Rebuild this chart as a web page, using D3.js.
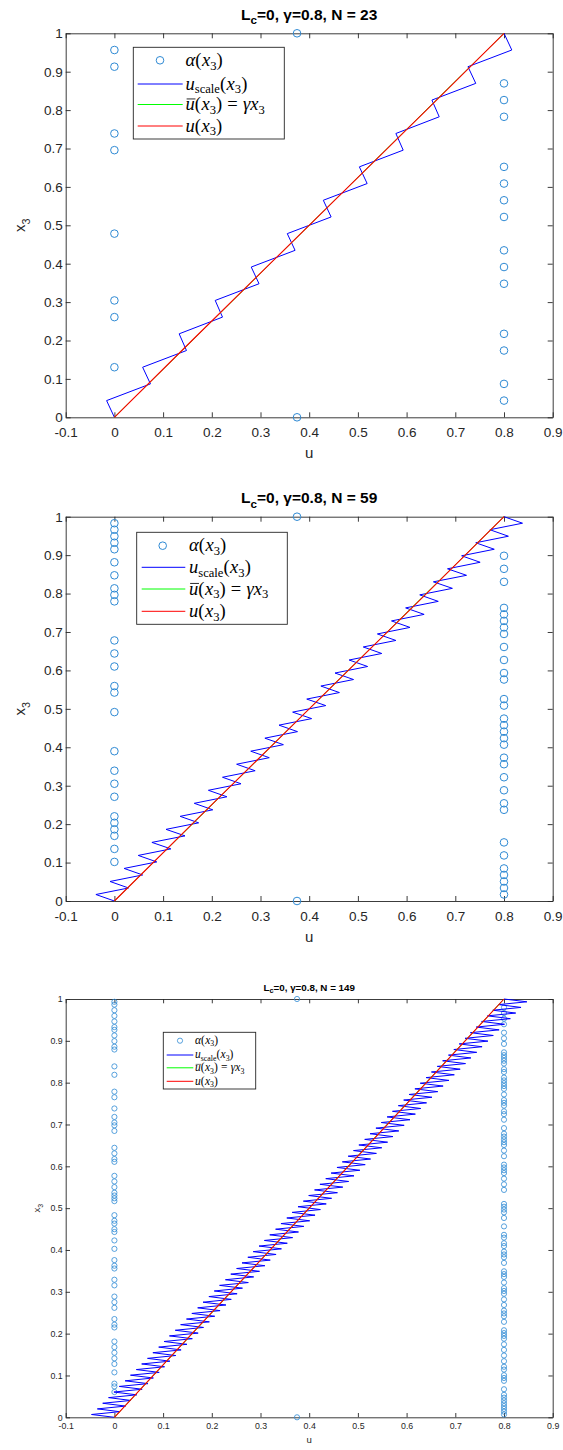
<!DOCTYPE html>
<html><head><meta charset="utf-8">
<script src="https://cdn.jsdelivr.net/npm/d3@7"></script>
<style>body{margin:0;background:#fff}svg{display:block}</style>
</head><body>
<svg id="c" width="563" height="1450"></svg>
<script>
// ---------- data ----------
const xTicks = [-0.1,0,0.1,0.2,0.3,0.4,0.5,0.6,0.7,0.8,0.9];
const xTickLabels = ["-0.1","0","0.1","0.2","0.3","0.4","0.5","0.6","0.7","0.8","0.9"];
const yTicks = [0,0.1,0.2,0.3,0.4,0.5,0.6,0.7,0.8,0.9,1];
const yTickLabels = ["0","0.1","0.2","0.3","0.4","0.5","0.6","0.7","0.8","0.9","1"];
const titles = ["23","59","149"];

const x3_23 = [0,0.0435,0.0870,0.1304,0.1739,0.2174,0.2609,0.3043,0.3478,0.3913,0.4348,0.4783,0.5217,0.5652,0.6087,0.6522,0.6957,0.7391,0.7826,0.8261,0.8696,0.9130,0.9565,1];
const alpha_23 = [0.375,0.8,0.8,0,0.8,0.8,0,0,0.8,0.8,0.8,0,0.8,0.8,0.8,0.8,0,0,0.8,0.8,0.8,0,0,0.375];
const uscale_23 = [0,-0.016,0.074,0.058,0.148,0.133,0.222,0.207,0.297,0.281,0.371,0.355,0.445,0.429,0.519,0.503,0.593,0.578,0.667,0.652,0.742,0.726,0.816,0.800];

const x3_59 = [0,0.0169,0.0339,0.0508,0.0678,0.0847,0.1017,0.1186,0.1356,0.1525,
0.1695,0.1864,0.2034,0.2203,0.2373,0.2542,0.2712,0.2881,0.3051,0.3220,
0.3390,0.3559,0.3729,0.3898,0.4068,0.4237,0.4407,0.4576,0.4746,0.4915,
0.5085,0.5254,0.5424,0.5593,0.5763,0.5932,0.6102,0.6271,0.6441,0.6610,
0.6780,0.6949,0.7119,0.7288,0.7458,0.7627,0.7797,0.7966,0.8136,0.8305,
0.8475,0.8644,0.8814,0.8983,0.9153,0.9322,0.9492,0.9661,0.9831,1];
const alpha_59 = [0.375,0.8,0.8,0.8,0.8,0.8,0,0.8,0,0.8,
0,0,0,0,0.8,0.8,0,0.8,0,0.8,
0,0.8,0.8,0,0.8,0.8,0.8,0.8,0.8,0,
0.8,0.8,0,0,0.8,0.8,0,0.8,0,0.8,
0,0.8,0.8,0.8,0.8,0.8,0,0,0,0.8,
0,0.8,0,0.8,0,0,0,0,0,0.375];
const uscale_59 = [0,-0.038,0.029,-0.009,0.058,0.020,0.087,0.049,0.116,0.077,
0.145,0.106,0.173,0.135,0.202,0.164,0.231,0.193,0.260,0.222,
0.289,0.251,0.318,0.280,0.347,0.309,0.376,0.338,0.405,0.366,
0.434,0.395,0.462,0.424,0.491,0.453,0.520,0.482,0.549,0.511,
0.578,0.540,0.607,0.569,0.636,0.598,0.665,0.627,0.694,0.655,
0.723,0.684,0.751,0.713,0.780,0.742,0.809,0.771,0.838,0.800];

const x3_149 = [0,0.0067,0.0134,0.0201,0.0268,0.0336,0.0403,0.0470,0.0537,0.0604,
0.0671,0.0738,0.0805,0.0872,0.0940,0.1007,0.1074,0.1141,0.1208,0.1275,
0.1342,0.1409,0.1477,0.1544,0.1611,0.1678,0.1745,0.1812,0.1879,0.1946,
0.2013,0.2081,0.2148,0.2215,0.2282,0.2349,0.2416,0.2483,0.2550,0.2617,
0.2685,0.2752,0.2819,0.2886,0.2953,0.3020,0.3087,0.3154,0.3221,0.3289,
0.3356,0.3423,0.3490,0.3557,0.3624,0.3691,0.3758,0.3826,0.3893,0.3960,
0.4027,0.4094,0.4161,0.4228,0.4295,0.4362,0.4430,0.4497,0.4564,0.4631,
0.4698,0.4765,0.4832,0.4899,0.4966,0.5034,0.5101,0.5168,0.5235,0.5302,
0.5369,0.5436,0.5503,0.5570,0.5638,0.5705,0.5772,0.5839,0.5906,0.5973,
0.6040,0.6107,0.6174,0.6242,0.6309,0.6376,0.6443,0.6510,0.6577,0.6644,
0.6711,0.6779,0.6846,0.6913,0.6980,0.7047,0.7114,0.7181,0.7248,0.7315,
0.7383,0.7450,0.7517,0.7584,0.7651,0.7718,0.7785,0.7852,0.7919,0.7987,
0.8054,0.8121,0.8188,0.8255,0.8322,0.8389,0.8456,0.8523,0.8591,0.8658,
0.8725,0.8792,0.8859,0.8926,0.8993,0.9060,0.9128,0.9195,0.9262,0.9329,
0.9396,0.9463,0.9530,0.9597,0.9664,0.9732,0.9799,0.9866,0.9933,1];
const alpha_149 = [0.375,0.8,0.8,0.8,0.8,0.8,0.8,0.8,0.8,0,
0.8,0,0,0.8,0.8,0.8,0,0.8,0.8,0,
0.8,0,0.8,0,0.8,0,0.8,0,0.8,0.8,
0.8,0.8,0,0,0.8,0,0.8,0.8,0.8,0,
0.8,0,0.8,0,0.8,0.8,0.8,0,0.8,0,
0.8,0.8,0.8,0,0,0.8,0,0.8,0.8,0.8,
0,0.8,0.8,0,0.8,0.8,0,0,0.8,0,
0,0.8,0,0.8,0.8,0.8,0.8,0,0,0,
0,0.8,0,0.8,0,0.8,0,0.8,0.8,0.8,
0.8,0,0,0.8,0,0.8,0,0.8,0.8,0.8,
0.8,0.8,0,0.8,0,0,0.8,0,0.8,0.8,
0,0.8,0.8,0.8,0,0.8,0,0.8,0.8,0.8,
0.8,0.8,0,0.8,0.8,0,0.8,0.8,0.8,0.8,
0.8,0,0,0.8,0,0.8,0,0.8,0,0,
0.8,0,0.8,0,0.8,0,0.8,0,0,0.375];
const uscale_149 = [0,-0.047,0.011,-0.035,0.023,-0.024,0.034,-0.012,0.046,-0.001,
0.057,0.010,0.069,0.022,0.080,0.033,0.092,0.045,0.103,0.056,
0.114,0.068,0.126,0.079,0.137,0.091,0.149,0.102,0.160,0.113,
0.172,0.125,0.183,0.136,0.195,0.148,0.206,0.159,0.217,0.171,
0.229,0.182,0.240,0.194,0.252,0.205,0.263,0.216,0.275,0.228,
0.286,0.239,0.298,0.251,0.309,0.262,0.320,0.274,0.332,0.285,
0.343,0.297,0.355,0.308,0.366,0.319,0.378,0.331,0.389,0.342,
0.401,0.354,0.412,0.365,0.423,0.377,0.435,0.388,0.446,0.399,
0.458,0.411,0.469,0.422,0.481,0.434,0.492,0.445,0.504,0.457,
0.515,0.468,0.526,0.480,0.538,0.491,0.549,0.502,0.561,0.514,
0.572,0.525,0.584,0.537,0.595,0.548,0.607,0.560,0.618,0.571,
0.629,0.583,0.641,0.594,0.652,0.605,0.664,0.617,0.675,0.628,
0.687,0.640,0.698,0.651,0.710,0.663,0.721,0.674,0.732,0.686,
0.744,0.697,0.755,0.708,0.767,0.720,0.778,0.731,0.790,0.743,
0.801,0.754,0.813,0.766,0.824,0.777,0.835,0.789,0.847,0.800];

// ubar = gamma*x3 and u(x3)
const ubarX3 = [0,1];
const ubarU = [0,0.8];
const uX3 = [0,0.2,0.4,0.6,0.8,1];
const uU = [0,0.1593,0.3197,0.4803,0.6407,0.8];

// ---------- layout ----------
const AX = "#262626";
const panels = [
 {N:titles[0], x3:x3_23, alpha:alpha_23, us:uscale_23, top:33.3, bottom:417.3,
  tickFs:13.5, titleFs:15.5, labFs:15, tickLen:5, r:3.8, titleY:19.5, xlabY:458, ylabX:25,
  tickPadX:10, tickPadY:3,
  leg:{x0:133.3,y0:47.3,x1:284.3,y1:139, mx:160, my:60.3, lx0:137.7, lx1:182.7, rows:[84,104.5,126], tx:185.5, fs:18.5}},
 {N:titles[1], x3:x3_59, alpha:alpha_59, us:uscale_59, top:516.7, bottom:901,
  tickFs:13.5, titleFs:15.5, labFs:15, tickLen:5, r:3.8, titleY:503.3, xlabY:941.7, ylabX:25,
  tickPadX:10, tickPadY:3,
  leg:{x0:136.7,y0:532.3,x1:287.3,y1:624.3, mx:162.7, my:545.7, lx0:141.7, lx1:185.3, rows:[567.3,589,611.3], tx:189, fs:18.5}},
 {N:titles[2], x3:x3_149, alpha:alpha_149, us:uscale_149, top:999, bottom:1417.3,
  tickFs:8.8, titleFs:9.8, labFs:9.6, tickLen:4.3, r:2.6, titleY:990.5, xlabY:1443, ylabX:40,
  tickPadX:5.5, tickPadY:3,
  leg:{x0:163.3,y0:1032.3,x1:255.7,y1:1089, mx:180, my:1040.7, lx0:166.7, lx1:193.3, rows:[1055,1067.8,1081.3], tx:195, fs:11.5}}
];
const LEFT = 65.7, RIGHT = 552.7;
const CIRC = "#2f8ad4";

const svg = d3.select("#c");

function mathLabel(g, x, yc, parts, fs) {
  let cx = x; const base = yc + fs*0.3;
  parts.forEach(p => {
    const size = p.sub ? fs*0.68 : fs;
    const t = g.append("text").attr("x", cx).attr("y", base + (p.sub ? fs*0.2 : 0))
      .attr("font-family", '"Liberation Serif","DejaVu Serif",serif')
      .attr("font-size", size).attr("font-style", p.it ? "italic" : "normal")
      .attr("fill", "#000").text(p.t);
    const w = t.node().getComputedTextLength();
    if (p.over) g.append("line").attr("x1", cx+fs*0.06).attr("x2", cx+w+fs*0.04)
      .attr("y1", base-fs*0.6).attr("y2", base-fs*0.6).attr("stroke","#000").attr("stroke-width", fs*0.045);
    cx += w + (p.a||0)*fs;
  });
}
const labAlpha = [{t:"α",it:1},{t:"(",a:0.03},{t:"x",it:1},{t:"3",sub:1},{t:")"}];
const labUs = [{t:"u",it:1},{t:"scale",sub:1},{t:"(",a:0.03},{t:"x",it:1},{t:"3",sub:1},{t:")"}];
const labUbar = [{t:"u",it:1,over:1},{t:"(",a:0.03},{t:"x",it:1},{t:"3",sub:1},{t:")",a:0.28},{t:"=",a:0.28},{t:"γ",it:1},{t:"x",it:1},{t:"3",sub:1}];
const labU = [{t:"u",it:1},{t:"(",a:0.03},{t:"x",it:1},{t:"3",sub:1},{t:")"}];

panels.forEach(P => {
  const x = d3.scaleLinear().domain([-0.1,0.9]).range([LEFT,RIGHT]);
  const y = d3.scaleLinear().domain([0,1]).range([P.bottom,P.top]);
  const g = svg.append("g");

  const styleAxis = a => {
    a.selectAll("path.domain").attr("stroke", AX).attr("stroke-width", 0.9);
    a.selectAll(".tick line").attr("stroke", AX).attr("stroke-width", 0.9);
    a.selectAll(".tick text").attr("fill", AX).attr("font-family", '"Liberation Sans",Arial,sans-serif').attr("font-size", P.tickFs);
  };
  const bx = g.append("g").attr("transform", `translate(0,${P.bottom})`)
    .call(d3.axisBottom(x).tickValues(xTicks).tickFormat((d,i)=>xTickLabels[i]).tickSizeInner(-P.tickLen).tickSizeOuter(0).tickPadding(P.tickPadX));
  styleAxis(bx);
  const tx = g.append("g").attr("transform", `translate(0,${P.top})`)
    .call(d3.axisTop(x).tickValues(xTicks).tickFormat("").tickSizeInner(-P.tickLen).tickSizeOuter(0));
  styleAxis(tx);
  const ly = g.append("g").attr("transform", `translate(${LEFT},0)`)
    .call(d3.axisLeft(y).tickValues(yTicks).tickFormat((d,i)=>yTickLabels[i]).tickSizeInner(-P.tickLen).tickSizeOuter(0).tickPadding(P.tickPadY));
  styleAxis(ly);
  const ry = g.append("g").attr("transform", `translate(${RIGHT},0)`)
    .call(d3.axisRight(y).tickValues(yTicks).tickFormat("").tickSizeInner(-P.tickLen).tickSizeOuter(0));
  styleAxis(ry);

  const tt = g.append("text").attr("x", (LEFT+RIGHT)/2).attr("y", P.titleY).attr("text-anchor","middle")
    .attr("font-family", '"Liberation Sans",Arial,sans-serif').attr("font-weight","bold")
    .attr("font-size", P.titleFs).attr("fill","#000");
  tt.append("tspan").text("L");
  tt.append("tspan").attr("dy", P.titleFs*0.28).attr("font-size", P.titleFs*0.75).text("c");
  tt.append("tspan").attr("dy", -P.titleFs*0.28).text("=0, γ=0.8, N = " + P.N);

  g.append("text").attr("x", (LEFT+RIGHT)/2).attr("y", P.xlabY).attr("text-anchor","middle")
    .attr("font-family", '"Liberation Sans",Arial,sans-serif').attr("font-size", P.labFs).attr("fill", AX).text("u");
  const yl = g.append("text").attr("transform", `translate(${P.ylabX},${(P.top+P.bottom)/2}) rotate(-90)`)
    .attr("text-anchor","middle").attr("font-family", '"Liberation Sans",Arial,sans-serif')
    .attr("font-size", P.labFs).attr("fill", AX);
  yl.append("tspan").text("x");
  yl.append("tspan").attr("dy", P.labFs*0.3).attr("font-size", P.labFs*0.72).text("3");

  const pts = P.x3.map((v,i)=>({x3:v, a:P.alpha[i], u:P.us[i]}));
  g.append("g").selectAll("circle").data(pts).join("circle")
    .attr("cx", d=>x(d.a)).attr("cy", d=>y(d.x3)).attr("r", P.r)
    .attr("fill","none").attr("stroke", CIRC).attr("stroke-width", P.r>3?1:0.8);
  const line = d3.line().x(d=>x(d.u)).y(d=>y(d.x3));
  g.append("path").datum(pts).attr("d", line).attr("fill","none").attr("stroke","#0000ff").attr("stroke-width", 1);
  g.append("path").datum(ubarX3.map((v,i)=>({x3:v,u:ubarU[i]}))).attr("d", line).attr("fill","none").attr("stroke","#00ff00").attr("stroke-width", 1);
  g.append("path").datum(uX3.map((v,i)=>({x3:v,u:uU[i]}))).attr("d", line).attr("fill","none").attr("stroke","#ff0000").attr("stroke-width", 1.1);

  const L = P.leg;
  const lg = g.append("g");
  lg.append("rect").attr("x", L.x0).attr("y", L.y0).attr("width", L.x1-L.x0).attr("height", L.y1-L.y0)
    .attr("fill","#fff").attr("stroke", AX).attr("stroke-width", 0.9);
  lg.append("circle").attr("cx", L.mx).attr("cy", L.my).attr("r", P.r).attr("fill","none").attr("stroke", CIRC).attr("stroke-width", P.r>3?1:0.8);
  ["#0000ff","#00ff00","#ff0000"].forEach((c,i)=>{
    lg.append("line").attr("x1", L.lx0).attr("x2", L.lx1).attr("y1", L.rows[i]).attr("y2", L.rows[i]).attr("stroke", c).attr("stroke-width", 1);
  });
  mathLabel(lg, L.tx, L.my, labAlpha, L.fs);
  mathLabel(lg, L.tx, L.rows[0], labUs, L.fs);
  mathLabel(lg, L.tx, L.rows[1], labUbar, L.fs);
  mathLabel(lg, L.tx, L.rows[2], labU, L.fs);
});
</script>
</body></html>
